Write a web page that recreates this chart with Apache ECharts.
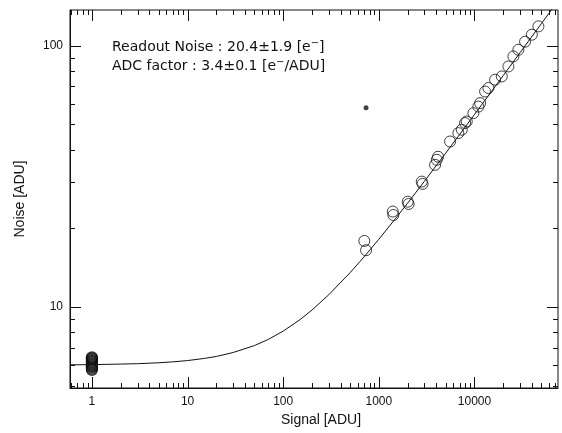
<!DOCTYPE html>
<html>
<head>
<meta charset="utf-8">
<script src="https://cdn.jsdelivr.net/npm/echarts@6/dist/echarts.min.js"></script>
<style>
  html, body { margin: 0; padding: 0; background: #fff; }
  #chart { width: 562px; height: 433px; }
</style>
</head>
<body>
<div id="chart"></div>
<script>
// ---- data ----
// bias frames (signal = 1 ADU)
const biasSignal = [1, 1, 1, 1, 1, 1, 1, 1, 1, 1, 1, 1, 1, 1, 1, 1, 1];
const biasNoise  = [6.42, 6.38, 6.35, 6.30, 6.27, 6.22, 6.18, 6.15, 6.10, 6.06, 6.02, 5.98, 5.94, 5.90, 5.86, 5.80, 5.75];

// flat-field pairs
const flatSignal = [705, 735, 1398, 1419, 2005, 2046, 2810, 2865, 3873, 4034, 4160, 5556, 6786, 7362, 7974, 8300, 9738, 10985, 11447, 12912, 13978, 16427, 19302, 22620, 25530, 28790, 33820, 39770, 46610];
const flatNoise  = [17.9, 16.5, 23.2, 22.5, 25.3, 24.8, 30.2, 29.6, 35.0, 36.6, 37.6, 43.0, 46.3, 47.7, 50.6, 51.3, 55.2, 58.5, 60.3, 66.8, 68.9, 74.1, 76.3, 83.3, 91.0, 96.5, 103.6, 110.2, 118.6];

// fitted curve
const fitSignal = [0.59, 1, 2, 3, 5, 7, 10, 15, 20, 30, 50, 70, 100, 150, 200, 300, 500, 700, 1000, 1500, 2000, 3000, 5000, 7000, 10000, 15000, 20000, 30000, 50000, 75000];
const fitNoise  = [6.01, 6.02, 6.05, 6.07, 6.12, 6.17, 6.24, 6.36, 6.47, 6.70, 7.12, 7.52, 8.09, 8.95, 9.74, 11.15, 13.53, 15.55, 18.17, 21.85, 24.98, 30.30, 38.81, 45.77, 54.56, 66.69, 76.93, 94.12, 121.4, 148.6];

// a stray speck in the scanned figure
const speckSignal = [735];
const speckNoise  = [57.9];

// axis ranges and ticks
const xRange = [0.59, 74700];
const yRange = [4.9, 137];
const xMajorTicks = [1, 10, 100, 1000, 10000];
const xMinorTicks = [0.6, 0.7, 0.8, 0.9, 2, 3, 4, 5, 6, 7, 8, 9, 20, 30, 40, 50, 60, 70, 80, 90,
  200, 300, 400, 500, 600, 700, 800, 900, 2000, 3000, 4000, 5000, 6000, 7000, 8000, 9000,
  20000, 30000, 40000, 50000, 60000, 70000];
const yMajorTicks = [10, 100];
const yMinorTicks = [5, 6, 7, 8, 9, 20, 30, 40, 50, 60, 70, 80, 90];

const noteLines = ['Readout Noise : 20.4±1.9 [e{sup|−}]', 'ADC factor : 3.4±0.1 [e{sup|−}/ADU]'];

// ---- chart ----
const zip = (a, b) => a.map((v, i) => [v, b[i]]);
const FONT = 'Liberation Sans, Arial, sans-serif';
const NOTE_FONT = 'DejaVu Sans, sans-serif';
const INK = '#111';

function tickSeries(values, axisDim, len) {
  return {
    type: 'custom',
    silent: true,
    clip: false,
    z: 5,
    data: values.map(v => axisDim === 'x' ? [v, 10] : [1, v]),
    encode: { x: 0, y: 1 },
    renderItem: function (params, api) {
      const cs = params.coordSys;
      const p = api.coord([api.value(0), api.value(1)]);
      const st = { stroke: INK, lineWidth: 1 };
      if (axisDim === 'x') {
        const x = Math.round(p[0]) + 0.5;
        return { type: 'group', children: [
          { type: 'line', shape: { x1: x, y1: cs.y + cs.height, x2: x, y2: cs.y + cs.height - len }, style: st },
          { type: 'line', shape: { x1: x, y1: cs.y, x2: x, y2: cs.y + len }, style: st }
        ]};
      } else {
        const y = Math.round(p[1]) + 0.5;
        return { type: 'group', children: [
          { type: 'line', shape: { x1: cs.x, y1: y, x2: cs.x + len, y2: y }, style: st },
          { type: 'line', shape: { x1: cs.x + cs.width, y1: y, x2: cs.x + cs.width - len, y2: y }, style: st }
        ]};
      }
    }
  };
}

const chart = echarts.init(document.getElementById('chart'), null, { renderer: 'canvas' });
chart.setOption({
  animation: false,
  backgroundColor: '#fff',
  grid: { left: 70, right: 4, top: 10, bottom: 45, show: true, borderColor: INK, borderWidth: 1, backgroundColor: 'transparent' },
  xAxis: {
    type: 'log', logBase: 10, min: xRange[0], max: xRange[1],
    name: 'Signal [ADU]', nameLocation: 'middle', nameGap: 25,
    nameTextStyle: { fontFamily: FONT, fontSize: 14, color: INK, padding: [0, 0, 0, 14] },
    axisLine: { show: true, lineStyle: { color: INK, width: 1 } },
    axisTick: { show: false },
    splitLine: { show: false },
    axisLabel: { showMinLabel: false, showMaxLabel: false, margin: 8, fontFamily: FONT, fontSize: 12, color: INK,
      formatter: v => String(Math.round(v)) }
  },
  yAxis: {
    type: 'log', logBase: 10, min: yRange[0], max: yRange[1],
    name: 'Noise [ADU]', nameLocation: 'middle', nameGap: 43,
    nameTextStyle: { fontFamily: FONT, fontSize: 14, color: INK },
    axisLine: { show: true, lineStyle: { color: INK, width: 1 } },
    axisTick: { show: false },
    splitLine: { show: false },
    axisLabel: { showMinLabel: false, showMaxLabel: false, margin: 7, fontFamily: FONT, fontSize: 12, color: INK,
      formatter: v => String(Math.round(v)) }
  },
  graphic: [{
    type: 'text', left: 112, top: 38, silent: true,
    style: {
      text: noteLines.join('\n'),
      fontFamily: NOTE_FONT, fontSize: 14, lineHeight: 19, fill: INK,
      rich: { sup: { fontFamily: NOTE_FONT, fontSize: 10, verticalAlign: 'top', fill: INK } }
    }
  }],
  series: [
    tickSeries(xMajorTicks, 'x', 11),
    tickSeries(xMinorTicks, 'x', 5),
    tickSeries(yMajorTicks, 'y', 11),
    tickSeries(yMinorTicks, 'y', 5),
    {
      type: 'line', data: zip(fitSignal, fitNoise), showSymbol: false, symbol: 'none',
      lineStyle: { color: INK, width: 1 }, clip: true, z: 3
    },
    {
      type: 'scatter', data: zip(biasSignal, biasNoise), symbol: 'circle', symbolSize: 11,
      itemStyle: { color: 'rgba(255,255,255,0)', borderColor: INK, borderWidth: 1.2 }, z: 4
    },
    {
      type: 'scatter', data: zip(flatSignal, flatNoise), symbol: 'circle', symbolSize: 11,
      itemStyle: { color: 'rgba(255,255,255,0)', borderColor: INK, borderWidth: 1 }, z: 4
    },
    {
      type: 'scatter', data: zip(speckSignal, speckNoise), symbol: 'circle', symbolSize: 5,
      itemStyle: { color: INK }, z: 4
    }
  ]
});
</script>
</body>
</html>
